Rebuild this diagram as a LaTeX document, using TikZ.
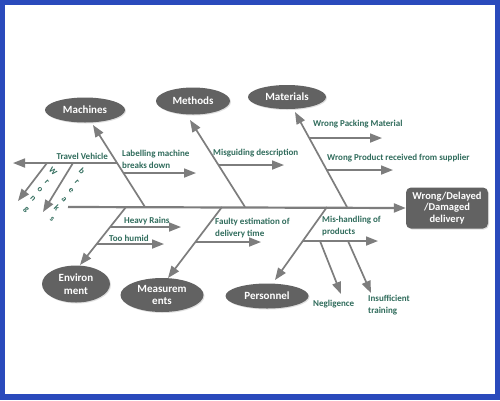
\documentclass[tikz,border=0pt]{standalone}
\usepackage{fontspec}
\setmainfont{Carlito}
\usetikzlibrary{arrows.meta,shapes.geometric,shadows}
\definecolor{frameblue}{RGB}{42,74,188}
\definecolor{bonegray}{RGB}{125,125,125}
\definecolor{ellgray}{RGB}{98,98,98}
\definecolor{labgreen}{RGB}{48,108,92}
\begin{document}
\begin{tikzpicture}[x=1pt,y=-1pt,
  bone/.style={draw=bonegray, line width=1.7pt, -{Triangle[length=12pt,width=9pt]}},
  cause/.style={ellipse, fill=ellgray, text=white, font=\bfseries\fontsize{11}{12.5}\selectfont,
    inner sep=0pt, align=center, drop shadow={opacity=0.25,shadow xshift=1pt,shadow yshift=-1pt}},
  lab/.style={text=labgreen, font=\bfseries\fontsize{9}{11.5}\selectfont, inner sep=0pt, align=left},
  letter/.style={text=labgreen, font=\bfseries\fontsize{8.5}{9}\selectfont, inner sep=0pt, rotate=-45}]
\useasboundingbox (0,0) rectangle (500,400);
% frame
\fill[frameblue] (0,0) rectangle (500,400);
\fill[white] (5,5) rectangle (495,394);

% effect
\node[fill=ellgray, rounded corners=5pt, minimum width=82pt, minimum height=41pt, inner sep=0pt,
  text=white, font=\bfseries\fontsize{10.5}{11.5}\selectfont, align=center,
  drop shadow={opacity=0.25,shadow xshift=1pt,shadow yshift=-1pt}]
  (effect) at (447,208) {Wrong/Delayed\\/Damaged\\delivery};

% cause ellipses
\node[cause, minimum width=80pt, minimum height=25pt] (mach) at (85,110) {Machines};
\node[cause, minimum width=74pt, minimum height=27pt] (meth) at (193,101) {Methods};
\node[cause, minimum width=78pt, minimum height=24pt] (mat) at (287,97) {Materials};
\node[cause, minimum width=68pt, minimum height=37pt] (env) at (76,284) {Environ\\ment};
\node[cause, minimum width=83pt, minimum height=34pt] (meas) at (162,295) {Measurem\\ents};
\node[cause, minimum width=83pt, minimum height=25pt] (pers) at (267,296) {Personnel};

% spine
\coordinate (spL) at (68,207);
\draw[bone, line width=2.2pt] (spL) -- (effect.west);

% main bones
\coordinate (machS) at (145,207); \coordinate (machT) at (93,125);
\coordinate (methS) at (245,207); \coordinate (methT) at (190,120);
\coordinate (matS) at (347,207);  \coordinate (matT) at (295,112);
\coordinate (envS) at (126,207);  \coordinate (envT) at (80,265);
\coordinate (measS) at (222,207); \coordinate (measT) at (168,278);
\coordinate (persS) at (327,207); \coordinate (persT) at (275,280);
\draw[bone] (machS) -- (machT);
\draw[bone] (methS) -- (methT);
\draw[bone] (matS) -- (matT);
\draw[bone] (envS) -- (envT);
\draw[bone] (measS) -- (measT);
\draw[bone] (persS) -- (persT);

% machines sub-bones
\coordinate (tvA) at (117,163); \coordinate (tvB) at (13,163);
\draw[bone] (tvA) -- (tvB);
\node[lab, anchor=base east] (tvL) at (108,159) {Travel Vehicle};
\coordinate (lbA) at (123,173); \coordinate (lbB) at (196,173);
\draw[bone] (lbA) -- (lbB);
\node[lab, anchor=north west] (lbL) at (122,150) {Labelling machine\\breaks down};
\coordinate (w1A) at (47,163); \coordinate (w1B) at (18,201);
\coordinate (w2A) at (73,163); \coordinate (w2B) at (43,212);
\draw[bone] (w1A) -- (w1B);
\draw[bone] (w2A) -- (w2B);
\foreach \ch/\x/\y [count=\i] in {W/53/171, r/47/182, o/40/190, n/33/199, g/26/210}
  \node[letter] (wa\i) at (\x,\y) {\ch};
\foreach \ch/\x/\y [count=\i] in {b/82/171, r/77/182, e/71/191, a/64/200, k/57/208, s/52/219}
  \node[letter] (wb\i) at (\x,\y) {\ch};

% methods sub-bone
\coordinate (mdA) at (218,165); \coordinate (mdB) at (284,165);
\draw[bone] (mdA) -- (mdB);
\node[lab, anchor=west] (mdL) at (213,153) {Misguiding description};

% materials sub-bones
\coordinate (wpA) at (309,138); \coordinate (wpB) at (382,138);
\draw[bone] (wpA) -- (wpB);
\node[lab, anchor=west] (wpL) at (313,124) {Wrong Packing Material};
\coordinate (wrA) at (327,170); \coordinate (wrB) at (393,170);
\draw[bone] (wrA) -- (wrB);
\node[lab, anchor=west] (wrL) at (327,158) {Wrong Product received from supplier};

% environment sub-bones
\coordinate (hrA) at (110,227); \coordinate (hrB) at (181,227);
\draw[bone] (hrA) -- (hrB);
\node[lab, anchor=west] (hrL) at (124,221) {Heavy Rains};
\coordinate (thA) at (97,244); \coordinate (thB) at (164,244);
\draw[bone] (thA) -- (thB);
\node[lab, anchor=west] (thL) at (109,238) {Too humid};

% measurement sub-bone
\coordinate (feA) at (195,242); \coordinate (feB) at (261,242);
\draw[bone] (feA) -- (feB);
\node[lab, anchor=north west] (feL) at (215,218) {Faulty estimation of\\delivery time};

% personnel sub-bones
\coordinate (mhA) at (303,241); \coordinate (mhB) at (378,241);
\draw[bone] (mhA) -- (mhB);
\node[lab, anchor=north west] (mhL) at (322,216) {Mis-handling of\\products};
\coordinate (ngA) at (320,241); \coordinate (ngB) at (341,294);
\draw[bone] (ngA) -- (ngB);
\node[lab, anchor=west] (ngL) at (313,304) {Negligence};
\coordinate (inA) at (348,241); \coordinate (inB) at (371,293);
\draw[bone] (inA) -- (inB);
\node[lab, anchor=north west] (inL) at (368,295) {Insufficient\\training};
\end{tikzpicture}
\end{document}
